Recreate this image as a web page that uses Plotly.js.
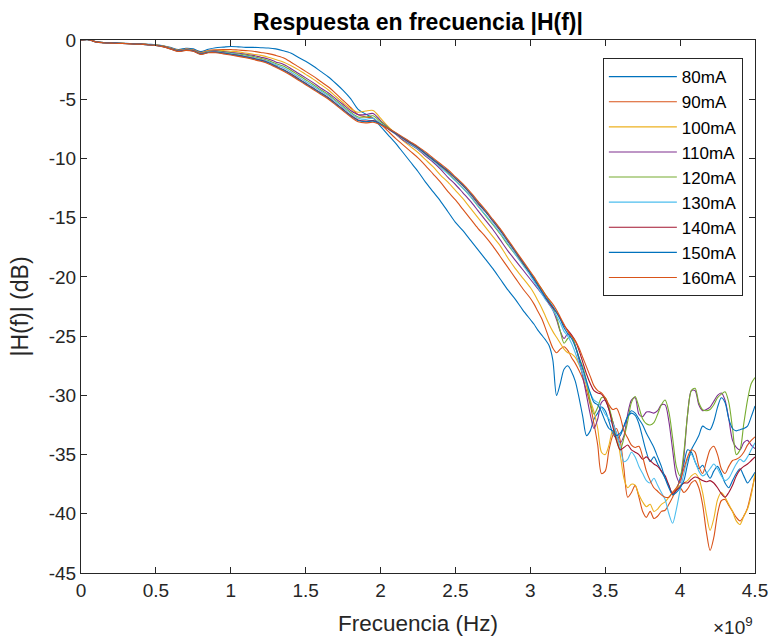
<!DOCTYPE html>
<html>
<head>
<meta charset="utf-8">
<script src="https://cdn.plot.ly/plotly-3.0.1.min.js"></script>
<style>html,body{margin:0;padding:0;background:#fff;}#chart{width:773px;height:637px;}</style>
</head>
<body>
<div id="chart"></div>
<script>
// Frequency grid in GHz (converted to Hz for plotting)
var freqGHz = [0,0.05,0.1,0.15,0.2,0.25,0.3,0.35,0.4,0.45,0.5,0.55,0.6,0.65,0.7,0.75,0.8,0.85,0.9,0.95,
1,1.05,1.1,1.15,1.2,1.25,1.3,1.35,1.4,1.45,1.5,1.55,1.6,1.65,1.7,1.75,1.8,1.85,1.9,1.95,
2,2.05,2.1,2.15,2.2,2.25,2.3,2.35,2.4,2.45,2.5,2.55,2.6,2.65,2.7,2.75,2.8,2.85,2.9,2.95,
3,3.025,3.05,3.075,3.1,3.125,3.15,3.175,3.2,3.225,3.25,3.275,3.3,3.325,3.35,3.375,3.4,3.425,3.45,3.475,
3.5,3.525,3.55,3.575,3.6,3.625,3.65,3.675,3.7,3.725,3.75,3.775,3.8,3.825,3.85,3.875,3.9,3.925,3.95,3.975,
4,4.025,4.05,4.075,4.1,4.125,4.15,4.175,4.2,4.225,4.25,4.275,4.3,4.325,4.35,4.375,4.4,4.425,4.45,4.475,4.5];

var seriesNames = ['80mA','90mA','100mA','110mA','120mA','130mA','140mA','150mA','160mA'];
var seriesColors = ['#0072BD','#D95319','#EDB120','#7E2F8E','#77AC30','#4DBEEE','#A2142F','#0072BD','#D95319'];

var h80 = [0,0.03,-0.14,-0.21,-0.23,-0.26,-0.28,-0.3,-0.32,-0.36,-0.4,-0.48,-0.64,-0.8,-0.7,-0.75,-0.98,-0.78,-0.65,-0.6,
-0.55,-0.58,-0.62,-0.62,-0.65,-0.68,-0.75,-0.9,-1.1,-1.45,-1.8,-2.2,-2.65,-3.1,-3.65,-4.25,-4.95,-5.85,-6.25,-6.6,
-7.3,-8.0,-8.7,-9.5,-10.3,-11.1,-12.0,-12.8,-13.6,-14.5,-15.4,-16.1,-16.9,-17.7,-18.5,-19.3,-20.2,-21.1,-21.9,-22.8,
-23.6,-24.0,-24.5,-24.9,-25.3,-25.8,-27.0,-30.0,-29.0,-27.8,-27.5,-28.0,-28.8,-30.2,-31.8,-33.4,-33.0,-32.0,-31.5,-31.0,
-31.3,-32.2,-33.2,-33.6,-33.4,-32.6,-31.8,-31.5,-31.7,-32.4,-33.6,-34.8,-35.6,-35.2,-35.8,-36.4,-37.0,-37.6,-38.4,-38.0,
-37.0,-35.8,-34.6,-34.8,-35.6,-36.2,-35.9,-36.5,-37.0,-36.4,-36.0,-36.6,-37.4,-37.8,-37.2,-36.6,-36.2,-36.8,-37.4,-37.0,-36.5];

var h90 = [0,0.03,-0.15,-0.22,-0.24,-0.27,-0.29,-0.31,-0.33,-0.38,-0.42,-0.5,-0.68,-0.86,-0.76,-0.82,-1.06,-0.88,-0.82,-0.8,
-0.8,-0.85,-0.9,-0.95,-1.05,-1.15,-1.3,-1.5,-1.85,-2.25,-2.65,-3.05,-3.5,-3.95,-4.5,-5.1,-5.7,-6.3,-6.5,-6.6,
-7.1,-7.7,-8.3,-8.85,-9.4,-9.95,-10.6,-11.3,-12.0,-12.8,-13.5,-14.3,-15.1,-15.9,-16.6,-17.4,-18.3,-19.2,-20.1,-21.0,
-21.8,-22.3,-22.9,-23.5,-24.3,-25.2,-26.0,-26.4,-26.1,-25.9,-26.2,-26.8,-27.3,-27.9,-28.6,-29.6,-30.8,-32.4,-34.2,-36.6,
-36.4,-34.6,-33.4,-32.8,-33.8,-36.2,-38.6,-38.2,-37.6,-38.6,-39.8,-40.3,-39.8,-40.4,-40.2,-39.8,-39.7,-39.2,-38.6,-38.0,
-37.8,-38.2,-37.9,-37.4,-37.2,-37.8,-39.2,-41.5,-43.1,-42.0,-40.0,-38.9,-38.8,-39.3,-39.8,-40.3,-40.6,-40.2,-39.5,-38.2,-36.8];

var h100 = [0,0.03,-0.15,-0.22,-0.24,-0.27,-0.29,-0.31,-0.33,-0.38,-0.43,-0.52,-0.7,-0.88,-0.78,-0.85,-1.1,-0.92,-0.88,-0.9,
-0.95,-1.0,-1.1,-1.2,-1.3,-1.45,-1.65,-1.85,-2.15,-2.5,-2.9,-3.3,-3.75,-4.2,-4.75,-5.3,-5.8,-6.1,-6.0,-5.95,
-6.6,-7.3,-7.9,-8.5,-9.0,-9.5,-10.1,-10.7,-11.4,-12.0,-12.7,-13.4,-14.2,-15.0,-15.8,-16.6,-17.4,-18.4,-19.3,-20.1,
-20.9,-21.4,-22.0,-22.6,-23.3,-24.0,-24.6,-25.1,-25.6,-26.1,-26.4,-26.5,-26.8,-27.4,-28.2,-29.2,-30.4,-31.4,-32.8,-34.8,
-35.0,-34.2,-33.0,-33.4,-35.0,-37.0,-37.8,-37.5,-37.6,-38.4,-39.0,-39.4,-39.2,-39.8,-39.6,-39.2,-39.0,-38.6,-38.2,-37.9,
-37.6,-37.4,-37.2,-36.8,-36.6,-37.0,-38.2,-40.0,-41.4,-40.4,-38.8,-38.2,-38.6,-39.2,-39.8,-40.6,-40.9,-40.2,-39.6,-38.4,-36.6];

var h110 = [0,0.03,-0.15,-0.22,-0.24,-0.27,-0.29,-0.31,-0.34,-0.39,-0.44,-0.53,-0.71,-0.9,-0.8,-0.87,-1.12,-0.95,-0.92,-0.98,
-1.05,-1.12,-1.2,-1.3,-1.45,-1.6,-1.85,-2.05,-2.4,-2.8,-3.2,-3.6,-4.05,-4.45,-4.95,-5.45,-5.95,-6.3,-6.3,-6.2,
-6.8,-7.4,-7.95,-8.45,-8.85,-9.25,-9.8,-10.3,-10.9,-11.6,-12.2,-12.9,-13.6,-14.4,-15.2,-16.0,-16.9,-17.8,-18.6,-19.4,
-20.2,-20.6,-21.0,-21.4,-21.8,-22.3,-22.8,-23.6,-24.6,-25.2,-24.8,-25.0,-25.8,-27.0,-28.4,-30.0,-31.6,-32.8,-32.0,-30.6,
-30.4,-31.2,-32.2,-33.2,-34.0,-33.4,-31.6,-30.4,-30.2,-31.6,-31.8,-31.4,-31.4,-31.5,-31.3,-30.8,-30.8,-32.2,-34.6,-36.8,
-37.4,-35.2,-31.6,-29.6,-29.6,-30.8,-31.3,-31.2,-31.0,-30.5,-30.0,-29.8,-30.4,-32.0,-33.8,-34.4,-34.6,-34.0,-33.8,-34.2,-34.5];

var h120 = [0,0.03,-0.15,-0.22,-0.24,-0.27,-0.29,-0.32,-0.34,-0.39,-0.44,-0.54,-0.72,-0.91,-0.81,-0.88,-1.14,-0.97,-0.95,-1.02,
-1.1,-1.18,-1.28,-1.4,-1.55,-1.72,-1.98,-2.2,-2.55,-2.95,-3.35,-3.75,-4.2,-4.6,-5.1,-5.6,-6.1,-6.5,-6.5,-6.4,
-6.9,-7.4,-7.9,-8.35,-8.75,-9.15,-9.65,-10.15,-10.65,-11.25,-11.85,-12.5,-13.2,-14.0,-14.8,-15.6,-16.4,-17.3,-18.1,-18.9,
-19.7,-20.1,-20.6,-21.0,-21.5,-22.0,-22.6,-23.4,-24.6,-25.6,-25.2,-25.0,-25.8,-26.8,-27.6,-28.8,-30.6,-31.6,-31.0,-30.2,
-30.2,-31.0,-32.2,-33.8,-34.6,-33.6,-32.2,-30.6,-30.1,-31.0,-32.0,-32.4,-32.5,-32.3,-31.6,-30.8,-30.4,-31.4,-33.6,-36.0,
-36.8,-34.8,-31.6,-29.6,-29.4,-30.6,-31.2,-31.3,-31.2,-30.8,-30.2,-29.9,-29.7,-30.6,-32.8,-35.0,-34.6,-32.4,-30.4,-29.0,-28.5];

var h130 = [0,0.03,-0.15,-0.22,-0.25,-0.28,-0.3,-0.32,-0.35,-0.4,-0.45,-0.55,-0.73,-0.92,-0.83,-0.9,-1.16,-1.0,-0.98,-1.06,
-1.15,-1.24,-1.35,-1.48,-1.63,-1.82,-2.1,-2.35,-2.7,-3.1,-3.5,-3.9,-4.3,-4.7,-5.2,-5.7,-6.2,-6.6,-6.7,-6.6,
-7.05,-7.5,-7.95,-8.35,-8.8,-9.2,-9.7,-10.2,-10.75,-11.3,-11.9,-12.5,-13.2,-14.0,-14.75,-15.5,-16.3,-17.2,-18.1,-19.0,
-19.9,-20.4,-20.9,-21.4,-21.9,-22.3,-22.8,-23.3,-23.9,-24.6,-25.0,-25.6,-26.4,-27.3,-28.2,-29.0,-29.8,-30.4,-30.6,-31.0,
-31.6,-32.0,-32.4,-33.2,-34.4,-35.6,-35.4,-34.8,-35.2,-36.0,-36.6,-37.2,-37.4,-37.0,-37.6,-38.2,-38.8,-40.0,-40.8,-39.6,
-38.0,-36.6,-35.4,-35.0,-35.6,-36.4,-36.8,-36.6,-36.2,-35.8,-36.2,-36.8,-37.2,-37.0,-36.4,-35.8,-35.4,-35.6,-35.2,-34.6,-34.0];

var h140 = [0,0.03,-0.16,-0.23,-0.25,-0.28,-0.3,-0.33,-0.35,-0.4,-0.46,-0.56,-0.75,-0.94,-0.85,-0.92,-1.18,-1.03,-1.02,-1.1,
-1.2,-1.3,-1.42,-1.55,-1.7,-1.9,-2.2,-2.5,-2.85,-3.25,-3.65,-4.05,-4.45,-4.85,-5.35,-5.85,-6.35,-6.75,-6.85,-6.8,
-7.1,-7.5,-7.9,-8.3,-8.7,-9.1,-9.6,-10.1,-10.6,-11.1,-11.7,-12.3,-13.0,-13.8,-14.5,-15.3,-16.1,-17.0,-17.9,-18.8,
-19.7,-20.2,-20.7,-21.2,-21.7,-22.2,-22.6,-23.0,-23.5,-24.1,-24.5,-24.9,-25.4,-26.2,-27.2,-28.2,-29.0,-29.6,-29.8,-29.9,
-30.4,-31.2,-32.6,-33.8,-34.6,-34.4,-34.2,-34.6,-34.8,-35.0,-35.4,-35.2,-35.5,-35.8,-36.0,-36.4,-36.8,-37.6,-38.3,-38.0,
-37.7,-37.4,-37.4,-37.1,-36.9,-37.0,-37.2,-37.3,-37.2,-37.4,-37.8,-38.3,-38.6,-38.2,-37.6,-36.8,-36.3,-36.0,-35.8,-35.5,-35.2];

var h150 = [0,0.03,-0.16,-0.23,-0.25,-0.28,-0.31,-0.33,-0.36,-0.41,-0.46,-0.57,-0.76,-0.95,-0.86,-0.93,-1.2,-1.05,-1.04,-1.12,
-1.22,-1.32,-1.44,-1.58,-1.73,-1.93,-2.24,-2.54,-2.9,-3.3,-3.7,-4.1,-4.5,-4.9,-5.4,-5.9,-6.4,-6.8,-6.9,-6.85,
-7.1,-7.45,-7.85,-8.25,-8.65,-9.05,-9.55,-10.05,-10.55,-11.05,-11.65,-12.25,-12.95,-13.7,-14.45,-15.25,-16.05,-16.95,-17.85,-18.75,
-19.7,-20.2,-20.7,-21.2,-21.7,-22.1,-22.5,-23.0,-23.6,-24.3,-24.8,-25.2,-25.9,-26.8,-27.8,-28.8,-29.8,-30.6,-30.8,-31.4,
-32.2,-32.8,-33.0,-33.4,-33.2,-32.6,-31.8,-31.3,-31.5,-32.0,-32.5,-33.2,-33.8,-34.4,-35.2,-36.0,-37.0,-37.8,-38.4,-38.2,
-37.8,-37.2,-35.8,-34.6,-34.0,-33.4,-32.6,-32.8,-32.9,-32.2,-31.0,-30.2,-30.6,-32.0,-32.8,-33.0,-32.9,-32.8,-32.6,-31.8,-30.9];

var h160 = [0,0.03,-0.16,-0.23,-0.26,-0.29,-0.31,-0.34,-0.36,-0.41,-0.47,-0.58,-0.77,-0.97,-0.88,-0.95,-1.22,-1.08,-1.08,-1.17,
-1.27,-1.38,-1.5,-1.64,-1.8,-2.0,-2.3,-2.62,-2.98,-3.38,-3.78,-4.18,-4.58,-4.98,-5.48,-5.98,-6.48,-6.9,-7.0,-6.95,
-7.15,-7.45,-7.8,-8.2,-8.6,-9.0,-9.45,-9.95,-10.45,-10.95,-11.55,-12.15,-12.85,-13.6,-14.35,-15.15,-15.95,-16.85,-17.75,-18.65,
-19.55,-20.0,-20.5,-21.0,-21.5,-21.9,-22.3,-22.8,-23.4,-24.0,-24.6,-25.0,-25.4,-26.0,-26.8,-27.6,-28.4,-29.2,-29.6,-29.8,
-30.2,-30.8,-31.2,-31.1,-31.8,-33.0,-33.6,-34.2,-34.4,-34.3,-35.2,-36.4,-37.2,-37.8,-38.1,-38.4,-38.6,-38.6,-38.2,-37.8,
-37.2,-36.2,-35.2,-34.6,-34.8,-36.0,-36.6,-35.6,-34.6,-34.3,-35.0,-36.2,-36.6,-36.0,-35.5,-35.4,-35.2,-34.8,-34.2,-33.8,-33.5];

var xTickVals = [0,0.5,1,1.5,2,2.5,3,3.5,4,4.5];
var xTickText = ['0','0.5','1','1.5','2','2.5','3','3.5','4','4.5'];
var yTickVals = [0,-5,-10,-15,-20,-25,-30,-35,-40,-45];
var yTickText = ['0','-5','-10','-15','-20','-25','-30','-35','-40','-45'];

var allSeries = [h80,h90,h100,h110,h120,h130,h140,h150,h160];
var freqHz = freqGHz.map(function(f){return f*1e9;});

var traces = allSeries.map(function(vals, i){
  return {
    x: freqHz, y: vals, type: 'scatter', mode: 'lines',
    name: seriesNames[i],
    line: {color: seriesColors[i], width: 1.1, shape: 'spline', smoothing: 0.8}
  };
});

var fontFam = 'Liberation Sans, Arial, Helvetica, sans-serif';
var axisCol = '#262626';

var layout = {
  width: 773, height: 637,
  margin: {l: 81, r: 18, t: 40, b: 64, pad: 0},
  paper_bgcolor: '#ffffff', plot_bgcolor: '#ffffff',
  font: {family: fontFam, size: 18, color: axisCol},
  title: {text: '<b>Respuesta en frecuencia |H(f)|</b>', font: {family: fontFam, size: 23, color: '#000'},
          x: 0.5, xref: 'paper', y: 1 - 22/637, yref: 'container', yanchor: 'middle'},
  xaxis: {
    range: [0, 4.5e9], tickvals: xTickVals.map(function(v){return v*1e9;}), ticktext: xTickText,
    ticks: 'inside', ticklen: 6, tickwidth: 1, tickcolor: axisCol,
    showline: true, linecolor: axisCol, linewidth: 1, mirror: 'ticks',
    showgrid: false, zeroline: false,
    tickfont: {family: fontFam, size: 19, color: axisCol},
    title: {text: 'Frecuencia (Hz)', font: {family: fontFam, size: 22.5, color: axisCol}, standoff: 15}
  },
  yaxis: {
    range: [-45, 0], tickvals: yTickVals, ticktext: yTickText,
    ticks: 'inside', ticklen: 6, tickwidth: 1, tickcolor: axisCol,
    showline: true, linecolor: axisCol, linewidth: 1, mirror: 'ticks',
    showgrid: false, zeroline: false,
    tickfont: {family: fontFam, size: 19, color: axisCol},
    title: {text: '|H(f)| (dB)', font: {family: fontFam, size: 23, color: axisCol}, standoff: 13}
  },
  legend: {
    x: 0.982, y: 0.966, xanchor: 'right', yanchor: 'top',
    bgcolor: '#ffffff', bordercolor: axisCol, borderwidth: 1,
    font: {family: fontFam, size: 17, color: '#000'},
    itemwidth: 68, traceorder: 'normal'
  },
  annotations: [{
    text: '\u00d710<sup>9</sup>', xref: 'paper', yref: 'paper', x: 1, y: -0.1,
    xanchor: 'right', yanchor: 'middle', showarrow: false,
    font: {family: fontFam, size: 19, color: axisCol}
  }],
  showlegend: true
};

Plotly.newPlot('chart', traces, layout, {displayModeBar: false, staticPlot: true});
</script>
</body>
</html>
